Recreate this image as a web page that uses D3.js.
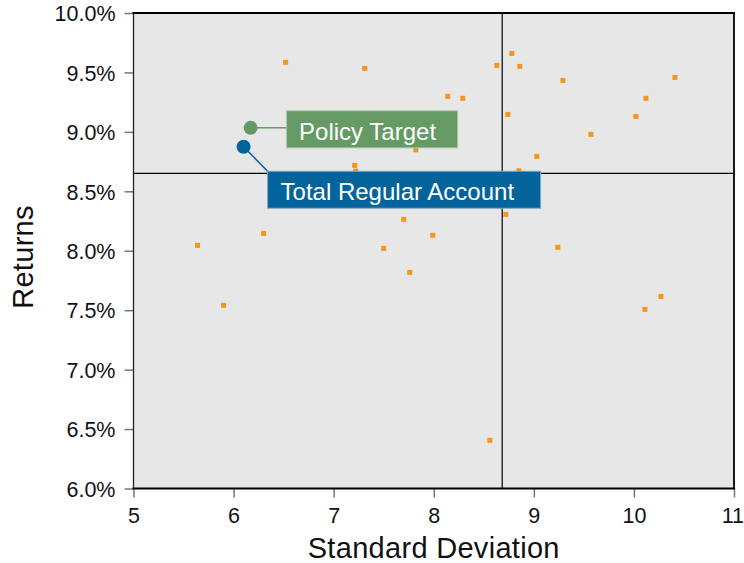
<!DOCTYPE html>
<html><head><meta charset="utf-8">
<script src="https://cdn.jsdelivr.net/npm/d3@7"></script>
<style>body{margin:0;background:#fff}svg{display:block}text{font-family:"Liberation Sans",Arial,sans-serif}</style>
</head><body><svg id="c" width="744" height="563"></svg>
<script>
const stdDev = [6.52,7.31,7.82,7.21,7.22,7.70,7.99,6.30,7.50,5.64,8.78,8.63,8.86,9.29,10.41,8.14,8.29,10.12,8.74,10.02,9.57,9.03,8.85,8.72,9.24,7.76,5.90,10.27,10.11,8.56];
const returns = [9.585,9.534,8.849,8.718,8.670,8.264,8.130,8.146,8.020,8.045,9.660,9.559,9.551,9.433,9.458,9.299,9.282,9.282,9.147,9.130,8.979,8.794,8.673,8.306,8.029,7.818,7.541,7.616,7.507,6.405];
const highlightNames = ["Policy Target","Total Regular Account"];
const highlightSD = [6.17,6.10];
const highlightRet = [9.034,8.875];
const medianSD = 8.684;
const medianRet = 8.651;
const xTicks = [5,6,7,8,9,10,11];
const yTicks = [6.0,6.5,7.0,7.5,8.0,8.5,9.0,9.5,10.0];

const svg = d3.select("#c");
const L=133.5,R=734,T=13,B=488.5;
const x = d3.scaleLinear().domain([5,11]).range([L,R]);
const y = d3.scaleLinear().domain([6,10]).range([B,T]);

svg.append("rect").attr("x",L).attr("y",T).attr("width",R-L).attr("height",B-T).attr("fill","#e7e7e7");

// axes
const xAxis = svg.append("g").attr("transform",`translate(0,${B})`)
  .call(d3.axisBottom(x).tickValues(xTicks).tickSize(9).tickPadding(10).tickFormat(d3.format("d")));
const yAxis = svg.append("g").attr("transform",`translate(${L},0)`)
  .call(d3.axisLeft(y).tickValues(yTicks).tickSize(9).tickPadding(9).tickFormat(d=>d.toFixed(1)+"%"));
[xAxis,yAxis].forEach(g=>{
  g.select(".domain").remove();
  g.selectAll(".tick line").attr("stroke","#777").attr("stroke-width",1.5);
  g.selectAll(".tick text").attr("fill","#111").attr("font-size",21.5).style("font-family","Liberation Sans, Arial, sans-serif");
});
yAxis.selectAll(".tick text").attr("dy","0.36em");
xAxis.selectAll(".tick text").attr("dy","0.71em");
// keep the last x label inside the page, as in the reference
xAxis.selectAll(".tick").filter(d=>d===xTicks[xTicks.length-1]).select("text")
  .attr("text-anchor","end").attr("x",9.5);

// crosshair
svg.append("line").attr("x1",x(medianSD)).attr("x2",x(medianSD)).attr("y1",T).attr("y2",B).attr("stroke","#000").attr("stroke-width",1.2);
svg.append("line").attr("x1",L).attr("x2",R).attr("y1",y(medianRet)).attr("y2",y(medianRet)).attr("stroke","#000").attr("stroke-width",1.2);

// frame
svg.append("line").attr("x1",L-1).attr("x2",R+1).attr("y1",T).attr("y2",T).attr("stroke","#000").attr("stroke-width",2);
svg.append("line").attr("x1",L-1).attr("x2",R+1).attr("y1",B).attr("y2",B).attr("stroke","#000").attr("stroke-width",2.2);
svg.append("line").attr("x1",L).attr("x2",L).attr("y1",T).attr("y2",B).attr("stroke","#222").attr("stroke-width",1.3);
svg.append("line").attr("x1",R).attr("x2",R).attr("y1",T).attr("y2",B).attr("stroke","#000").attr("stroke-width",1.8);

// scatter
const pts = stdDev.map((d,i)=>({sd:d,r:returns[i]}));
svg.append("g").selectAll("rect").data(pts).join("rect")
  .attr("x",d=>x(d.sd)-2.5).attr("y",d=>y(d.r)-2.5).attr("width",5).attr("height",5).attr("fill","#f7941d");

// highlighted points with labels
const cols = ["#669a64","#03649b"];
const hl = highlightNames.map((n,i)=>({name:n,sd:highlightSD[i],r:highlightRet[i],c:cols[i]}));
// Policy Target
{
  const d=hl[0], cx=x(d.sd), cy=y(d.r);
  const bx=cx+36, by=cy-17, bw=171, bh=37;
  svg.append("line").attr("x1",cx).attr("y1",cy).attr("x2",bx).attr("y2",cy).attr("stroke",d.c).attr("stroke-width",1.5);
  svg.append("rect").attr("x",bx).attr("y",by).attr("width",bw).attr("height",bh).attr("fill",d.c).attr("stroke","#a9c6a8").attr("stroke-width",1);
  svg.append("text").attr("x",bx+12.5).attr("y",by+29.5).attr("fill","#fff").attr("font-size",24).text(d.name);
  svg.append("circle").attr("cx",cx).attr("cy",cy).attr("r",7).attr("fill",d.c);
}
// Total Regular Account
{
  const d=hl[1], cx=x(d.sd), cy=y(d.r);
  const bx=cx+24, by=cy+24.5, bw=273, bh=37;
  svg.append("line").attr("x1",cx).attr("y1",cy).attr("x2",bx+2).attr("y2",by+2).attr("stroke",d.c).attr("stroke-width",1.5);
  svg.append("rect").attr("x",bx).attr("y",by).attr("width",bw).attr("height",bh).attr("fill",d.c).attr("stroke","#7fa9c8").attr("stroke-width",1);
  svg.append("text").attr("x",bx+13).attr("y",by+29).attr("fill","#fff").attr("font-size",24).text(d.name);
  svg.append("circle").attr("cx",cx).attr("cy",cy).attr("r",7).attr("fill",d.c);
}

// axis titles
svg.append("text").attr("x",(L+R)/2).attr("y",558).attr("text-anchor","middle").attr("font-size",29).attr("letter-spacing",0.3).attr("fill","#111").text("Standard Deviation");
svg.append("text").attr("transform",`translate(33,257) rotate(-90)`).attr("text-anchor","middle").attr("font-size",29).attr("letter-spacing",0.3).attr("fill","#111").text("Returns");
</script></body></html>
